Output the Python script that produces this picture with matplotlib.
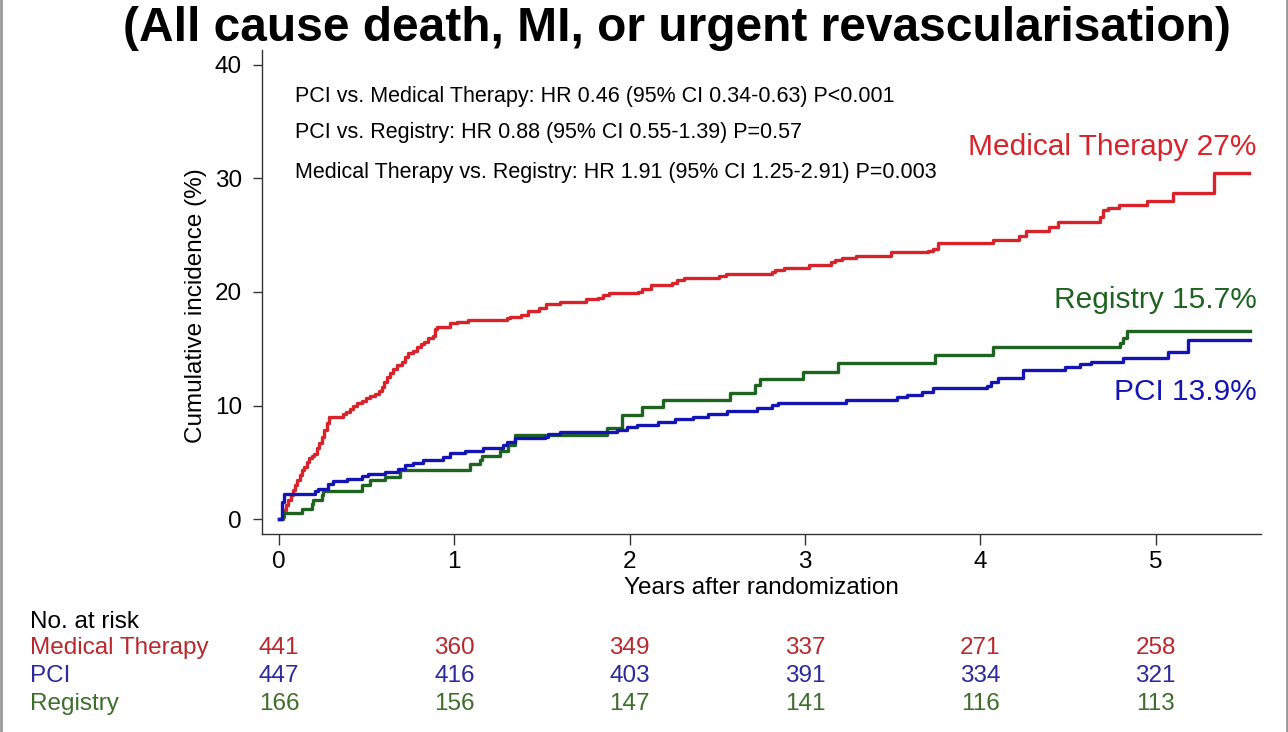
import numpy as np
import matplotlib
matplotlib.use("Agg")
import matplotlib.pyplot as plt
from matplotlib.lines import Line2D

plt.rcParams['font.family'] = ['Liberation Sans', 'DejaVu Sans']

# Kaplan-Meier style cumulative incidence (%)
med_t = [0, .017, .029, .040, .053, .067, .078, .091, .105, .120, .129, .143, .158, .173, .186, .200,
         .215, .230, .243, .257, .272, .287, .363, .382, .405, .424, .447, .471, .496, .519, .547, .572,
         .585, .599, .614, .633, .652, .675, .699, .718, .737, .762, .785, .808, .827, .851, .876, .889,
         .899, .975, 1.013, 1.08, 1.30, 1.32, 1.38, 1.42, 1.48, 1.52, 1.60, 1.75, 1.82, 1.85, 1.88, 2.05,
         2.07, 2.12, 2.24, 2.27, 2.31, 2.51, 2.55, 2.81, 2.83, 2.88, 3.02, 3.15, 3.17, 3.21, 3.29, 3.49,
         3.70, 3.73, 3.76, 4.07, 4.22, 4.26, 4.39, 4.44, 4.68, 4.70, 4.73, 4.79, 4.95, 5.10, 5.33, 5.53]
med_v = [0, .20, .79, 1.23, 1.67, 2.11, 2.56, 3.0, 3.44, 3.88, 4.32, 4.61, 5.05, 5.43, 5.55, 5.73,
         6.23, 6.73, 7.25, 7.84, 8.43, 8.96, 9.25, 9.46, 9.66, 9.96, 10.19, 10.4, 10.63, 10.84, 11.01, 11.31,
         11.66, 12.1, 12.48, 12.84, 13.19, 13.57, 13.86, 14.24, 14.6, 14.83, 15.12, 15.42, 15.62, 15.92, 16.12, 16.71,
         16.95, 17.24, 17.39, 17.5, 17.7, 17.8, 18.0, 18.3, 18.6, 18.9, 19.1, 19.4, 19.5, 19.7, 19.9, 20.0,
         20.3, 20.6, 20.8, 21.1, 21.2, 21.4, 21.6, 21.8, 21.9, 22.1, 22.4, 22.6, 22.8, 23.0, 23.2, 23.5,
         23.6, 23.8, 24.3, 24.6, 24.9, 25.4, 25.7, 26.2, 26.6, 27.2, 27.4, 27.7, 28.0, 28.75, 30.45, 30.45]

pci_t = [0, .017, .029, .205, .224, .281, .31, .386, .471, .509, .604, .68, .718, .766, .823, .937, .975,
         1.06, 1.165, 1.279, 1.298, 1.345, 1.517, 1.536, 1.602, 1.925, 1.982, 2.039, 2.163, 2.258, 2.362,
         2.448, 2.552, 2.723, 2.809, 2.847, 3.236, 3.522, 3.579, 3.664, 3.731, 4.035, 4.063, 4.101, 4.244,
         4.481, 4.567, 4.633, 4.814, 5.07, 5.184, 5.536]
pci_v = [0, 1.5, 2.26, 2.5, 2.7, 3.14, 3.38, 3.58, 3.79, 4.02, 4.17, 4.46, 4.76, 4.96, 5.2, 5.49, 5.79,
         5.99, 6.28, 6.52, 6.81, 7.11, 7.25, 7.46, 7.67, 7.84, 8.08, 8.31, 8.58, 8.78, 9.02,
         9.25, 9.52, 9.75, 10.04, 10.25, 10.48, 10.72, 10.93, 11.22, 11.51, 11.72, 12.1, 12.39, 13.13,
         13.42, 13.66, 13.86, 14.16, 14.74, 15.77, 15.77]

reg_t = [0, .025, .129, .186, .196, .243, .253, .471, .519, .604, .69, 1.089, 1.146, 1.155, 1.26, 1.307,
         1.345, 1.868, 1.954, 2.068, 2.191, 2.571, 2.714, 2.742, 2.989, 3.189, 3.74, 4.073, 4.795, 4.814,
         4.833, 5.536]
reg_v = [0, .56, .94, 1.38, 1.67, 2.11, 2.5, 3.0, 3.44, 3.73, 4.32, 4.85, 5.2, 5.55, 6.02, 6.52,
         7.4, 7.99, 9.16, 9.9, 10.48, 11.07, 11.81, 12.3, 12.98, 13.77, 14.45, 15.18, 15.48, 15.92,
         16.59, 16.59]

# number at risk table
risk_years = [0, 1, 2, 3, 4, 5]
risk_med = [441, 360, 349, 337, 271, 258]
risk_pci = [447, 416, 403, 391, 334, 321]
risk_reg = [166, 156, 147, 141, 116, 113]

hr_lines = ["PCI vs. Medical Therapy: HR 0.46 (95% CI 0.34-0.63) P<0.001",
            "PCI vs. Registry: HR 0.88 (95% CI 0.55-1.39) P=0.57",
            "Medical Therapy vs. Registry: HR 1.91 (95% CI 1.25-2.91) P=0.003"]

RED, BLUE, GREEN = '#d8232a', '#1414b4', '#1e6420'
RED_T, BLUE_T, GREEN_T = '#b8282c', '#2a2a9a', '#3d6e2a'

W, H = 1288, 732
fig = plt.figure(figsize=(W / 100, H / 100), dpi=100)

def fx(px):
    return px / W

def fy(py):
    return 1 - py / H

ax = fig.add_axes([fx(262), fy(534), fx(1261) - fx(262), fy(50) - fy(534)])

ax.plot(med_t, med_v, drawstyle='steps-post', color=RED, lw=2.4)
ax.plot(reg_t, reg_v, drawstyle='steps-post', color=GREEN, lw=2.4)
ax.plot(pci_t, pci_v, drawstyle='steps-post', color=BLUE, lw=2.4)

ax.set_xlim(-0.097, 5.6)
ax.set_ylim(-1.3, 41.3)
ax.set_xticks(range(6))
ax.set_yticks([0, 10, 20, 30, 40])
for s in ['top', 'right']:
    ax.spines[s].set_visible(False)
for s in ['left', 'bottom']:
    ax.spines[s].set_color('#333333')
    ax.spines[s].set_linewidth(1.0)
ax.tick_params(axis='x', length=8, width=1, color='#333333', labelsize=17.5, pad=4)
ax.tick_params(axis='y', length=6.5, width=1, color='#333333', labelsize=17.5, pad=8)

for i, line in enumerate(hr_lines):
    ax.text(0.09, [37.2, 34.0, 30.5][i], line, fontsize=15.5, va='center', ha='left')

ax.text(5.576, 32.8, "Medical Therapy 27%", color=RED, fontsize=21.5, ha='right', va='center')
ax.text(5.576, 19.3, "Registry 15.7%", color=GREEN, fontsize=21.5, ha='right', va='center')
ax.text(5.576, 11.2, "PCI 13.9%", color=BLUE, fontsize=21.5, ha='right', va='center')

fig.text(fx(677), fy(41), "(All cause death, MI, or urgent revascularisation)",
         fontsize=34.5, fontweight='bold', ha='center', va='baseline')
fig.text(fx(761), fy(588), "Years after randomization", fontsize=17.5, ha='center', va='center')
fig.text(fx(196), fy(306), "Cumulative incidence (%)", fontsize=17.5, ha='center', va='center',
         rotation=90)

# number at risk table below the axis
fig.text(fx(30), fy(622), "No. at risk", fontsize=17.5, ha='left', va='center')
rows = [("Medical Therapy", risk_med, RED_T, 648),
        ("PCI", risk_pci, BLUE_T, 676),
        ("Registry", risk_reg, GREEN_T, 704)]
for name, counts, col, ypx in rows:
    fig.text(fx(30), fy(ypx), name, fontsize=17.5, color=col, ha='left', va='center')
    for yr, n in zip(risk_years, counts):
        xd = ax.transData.transform((yr, 0))[0]
        fig.text(xd / fig.bbox.width, fy(ypx), str(n), fontsize=17.5, color=col,
                 ha='center', va='center')

# thin grey frame on the left and right edges
for xe in [0.001, 0.999]:
    fig.add_artist(Line2D([xe, xe], [0, 1], transform=fig.transFigure,
                          color='#9a9a9a', lw=2))

fig.savefig('out.png', dpi=100)
